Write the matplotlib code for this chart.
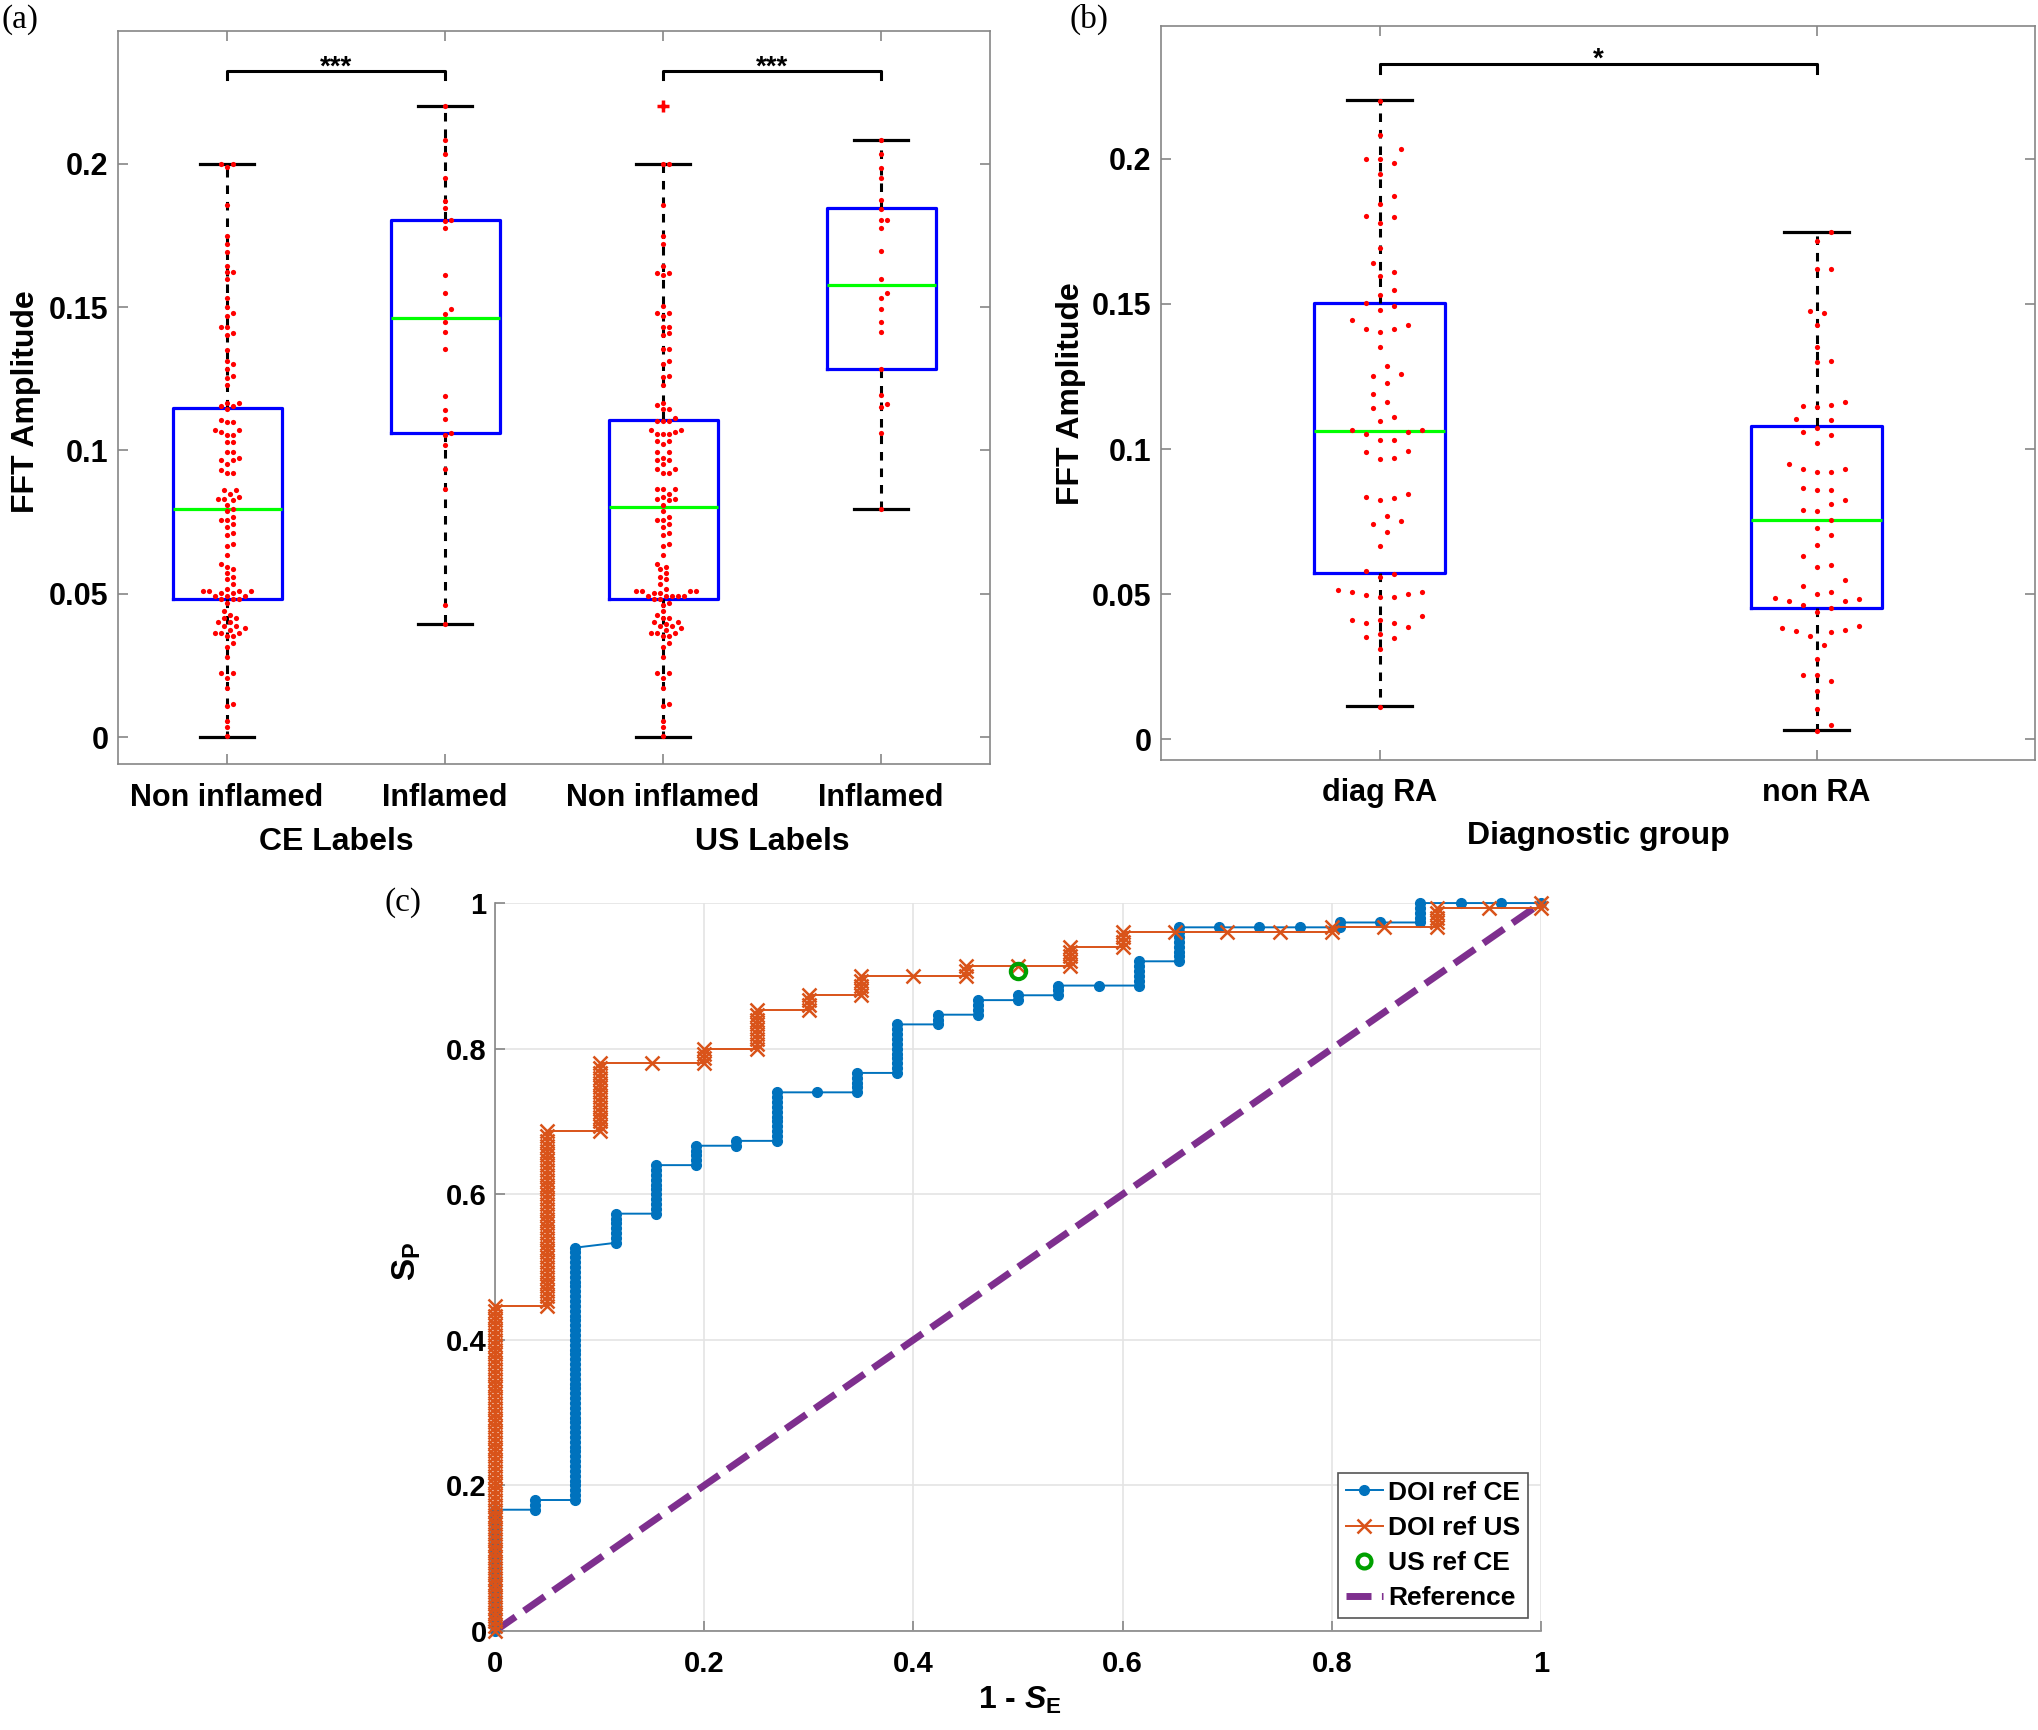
import numpy as np
import matplotlib
matplotlib.use('Agg')
import matplotlib.pyplot as plt
from matplotlib.lines import Line2D

plt.rcParams['font.family'] = 'Liberation Sans'
plt.rcParams['font.weight'] = 'bold'
plt.rcParams['mathtext.fontset'] = 'custom'
plt.rcParams['mathtext.rm'] = 'Liberation Sans:bold'
plt.rcParams['mathtext.it'] = 'Liberation Sans:bold:italic'
plt.rcParams['mathtext.bf'] = 'Liberation Sans:bold'

# ---------------- panel (a) data: FFT amplitude per label group ----------------
a_tick_labels = ['Non inflamed', 'Inflamed', 'Non inflamed', 'Inflamed']
a_group_labels = ['CE Labels', 'US Labels']

ce_non = [0.2, 0.2, 0.1987, 0.1856, 0.1749, 0.172, 0.1693, 0.1643, 0.1621, 0.1621,
          0.1597, 0.1533, 0.1501, 0.1479, 0.1467, 0.1431, 0.1431, 0.1411, 0.1404, 0.1349,
          0.131, 0.1301, 0.1284, 0.1261, 0.1254, 0.1227, 0.1165, 0.1165, 0.1156, 0.1156,
          0.1144, 0.1106, 0.11, 0.11, 0.1071, 0.1071, 0.1064, 0.1054, 0.1054, 0.103, 0.103,
          0.0993, 0.0993, 0.0973, 0.0967, 0.0967, 0.0953, 0.0932, 0.0922, 0.0922, 0.0862,
          0.0862, 0.0847, 0.0836, 0.083, 0.083, 0.0826, 0.0811, 0.0794, 0.0789, 0.0769,
          0.0757, 0.0757, 0.0743, 0.0732, 0.0711, 0.0705, 0.0675, 0.0665, 0.0636, 0.0604,
          0.0594, 0.0585, 0.0573, 0.0559, 0.0551, 0.0533, 0.0518, 0.0509, 0.0509, 0.0509,
          0.0509, 0.0501, 0.0501, 0.0492, 0.0492, 0.0492, 0.048, 0.048, 0.048, 0.0469,
          0.044, 0.0427, 0.0414, 0.0414, 0.0402, 0.0402, 0.0388, 0.0388, 0.0381, 0.0373,
          0.0364, 0.0364, 0.0364, 0.0354, 0.0354, 0.0327, 0.0315, 0.0278, 0.0223, 0.0223,
          0.0205, 0.017, 0.0116, 0.0109, 0.0057, 0.0034, 0.0005]
ce_inf = [0.2201, 0.2082, 0.2034, 0.1949, 0.1871, 0.1844, 0.1805, 0.1799, 0.1777, 0.1613,
          0.155, 0.1493, 0.1477, 0.1447, 0.1413, 0.1352, 0.119, 0.1141, 0.1111, 0.1062,
          0.1052, 0.1019, 0.0936, 0.0865, 0.0459, 0.0394]
us_non = [0.2202, 0.2, 0.2, 0.1856, 0.1749, 0.1721, 0.1643, 0.162, 0.162, 0.1612,
          0.1502, 0.1478, 0.1478, 0.1467, 0.143, 0.143, 0.1408, 0.1403, 0.1353, 0.1353,
          0.131, 0.1301, 0.126, 0.1255, 0.1228, 0.1164, 0.1157, 0.1143, 0.1143, 0.1112,
          0.1104, 0.1104, 0.1104, 0.1071, 0.1071, 0.1065, 0.1056, 0.1056, 0.1056, 0.1033,
          0.1033, 0.1021,
          0.0993, 0.0993, 0.0975, 0.0967, 0.0967, 0.0953, 0.0935, 0.0935, 0.0922, 0.0922,
          0.0864, 0.0864, 0.0864, 0.0847, 0.0836, 0.083, 0.0829, 0.0826, 0.0811, 0.0789,
          0.0769, 0.0757, 0.0757, 0.0743, 0.0732, 0.0711, 0.0705, 0.0675, 0.0665, 0.0636,
          0.0604, 0.0594, 0.0585, 0.0573, 0.0559, 0.0551, 0.0533, 0.0518, 0.0509, 0.0509,
          0.0509, 0.0509, 0.0501, 0.0501, 0.0492, 0.0492, 0.0492, 0.0492, 0.0492, 0.048,
          0.048, 0.0469, 0.0461, 0.044, 0.0427, 0.0414, 0.0414, 0.0402, 0.0402, 0.0394,
          0.0388, 0.0388, 0.0381, 0.0373, 0.0364, 0.0364, 0.0364, 0.0354, 0.0354, 0.0327,
          0.0315, 0.0278, 0.0223, 0.0223, 0.0205, 0.017, 0.0116, 0.0109, 0.0057, 0.0034,
          0.0005]
us_inf = [0.2082, 0.2033, 0.1986, 0.1949, 0.1873, 0.1843, 0.1804, 0.1804, 0.1777, 0.1695,
          0.1597, 0.155, 0.1533, 0.1493, 0.1448, 0.1413, 0.1285, 0.1192, 0.1163, 0.115,
          0.106, 0.0794]

# box statistics (q1, median, q3, whisker low, whisker high)
a_q1 = [0.0481, 0.1061, 0.0481, 0.1284]
a_med = [0.0794, 0.1463, 0.0801, 0.1578]
a_q3 = [0.1147, 0.1803, 0.1107, 0.1846]
a_wlo = [0.0, 0.0394, 0.0, 0.0794]
a_whi = [0.2, 0.2202, 0.2, 0.2084]
a_fliers = [[], [], [0.2202], []]

# ---------------- panel (b) data ----------------
b_tick_labels = ['diag RA', 'non RA']
diag_ra = [0.2198, 0.2083, 0.2032, 0.2, 0.1985, 0.2, 0.1947, 0.1843, 0.1871, 0.18,
           0.1802, 0.1777, 0.1692, 0.1639, 0.161, 0.1597, 0.1548, 0.1529, 0.1503, 0.1491,
           0.1478, 0.1446, 0.1427, 0.1412, 0.1403, 0.1412, 0.1352, 0.1285, 0.1251, 0.1259,
           0.1229, 0.1163, 0.1189, 0.114, 0.111, 0.1098, 0.1064, 0.1064, 0.1053, 0.1059,
           0.103, 0.103, 0.0992, 0.0989, 0.0964, 0.0968, 0.0836, 0.0845, 0.083, 0.0826,
           0.0771, 0.0741, 0.0752, 0.0713, 0.0665, 0.058, 0.0571, 0.0558, 0.0514, 0.0501,
           0.0491, 0.0507, 0.0507, 0.0497, 0.049, 0.0425, 0.0412, 0.0401, 0.0412, 0.0401,
           0.0386, 0.0352, 0.0363, 0.035, 0.0312, 0.0112]
non_ra = [0.1747, 0.1718, 0.162, 0.162, 0.1469, 0.1474, 0.1427, 0.1352, 0.1304, 0.1299,
          0.1144, 0.1163, 0.1153, 0.1147, 0.1102, 0.11, 0.1072, 0.1059, 0.1049, 0.1019,
          0.0949, 0.0922, 0.0922, 0.0932, 0.093, 0.086, 0.0864, 0.086, 0.0826, 0.0809,
          0.079, 0.0785, 0.0756, 0.0728, 0.0703, 0.0671, 0.0633, 0.0595, 0.0601, 0.0548,
          0.0529, 0.0507, 0.0478, 0.0463, 0.0454, 0.0439, 0.0482, 0.0486, 0.0476, 0.0501,
          0.0391, 0.0369, 0.0382, 0.0355, 0.0378, 0.0372, 0.0325, 0.0278, 0.0221, 0.0221,
          0.0202, 0.0168, 0.0104, 0.0051, 0.0028]

b_q1 = [0.0574, 0.0454]
b_med = [0.1062, 0.0755]
b_q3 = [0.1502, 0.108]
b_wlo = [0.0114, 0.0032]
b_whi = [0.2202, 0.1749]

# ---------------- panel (c) data: ROC steps ----------------
# each column k sits at x = k / n_pos ; markers from lo to hi counts (units of 1 / n_neg)
ce_n_pos, ce_n_neg = 26, 150
ce_lo = [0, 25, 27, 80, 86, 96, 100, 101, 111, 111, 115, 125, 127, 130, 131, 133, 133,
         138, 145, 145, 145, 145, 146, 146, 150, 150, 150]
ce_hi = [25, 27, 79, 86, 96, 100, 101, 111, 111, 115, 125, 127, 130, 131, 133, 133, 138,
         145, 145, 145, 145, 146, 146, 150, 150, 150, 150]
us_n_pos, us_n_neg = 20, 150
us_lo = [0, 67, 103, 117, 117, 120, 128, 131, 135, 135, 137, 137, 141, 144, 144, 144,
         144, 145, 145, 149, 149]
us_hi = [67, 103, 117, 117, 120, 128, 131, 135, 135, 137, 137, 141, 144, 144, 144, 144,
         145, 145, 149, 149, 150]
us_ref_ce = (0.5, 0.906)
c_ticks = [0, 0.2, 0.4, 0.6, 0.8, 1]
c_tick_labels = ['0', '0.2', '0.4', '0.6', '0.8', '1']
c_legend = ['DOI ref CE', 'DOI ref US', 'US ref CE', 'Reference']

BLUE = '#0072BD'
ORANGE = '#D95319'
GREEN = '#00A000'
PURPLE = '#7E2F8E'
SPINE = '#868686'


def swarm_offsets(vals, px_per_y, r):
    vals = np.asarray(vals, dtype=float)
    ys = vals * px_per_y
    offs = np.zeros(len(vals))
    done = []
    for i in np.argsort(vals, kind='stable'):
        c = 0.0
        for k in range(80):
            c = ((k + 1) // 2) * (r / 2.0) * (1 if k % 2 else -1)
            if all((c - offs[j]) ** 2 + (ys[i] - ys[j]) ** 2 >= r ** 2 for j in done):
                break
        offs[i] = c
        done.append(i)
    return offs


def box_panel(ax, groups, q1, med, q3, wlo, whi, fliers, width, px_x, px_y, r):
    pos = np.arange(1, len(groups) + 1)
    stats = [dict(q1=a, med=m, q3=b, whislo=lo, whishi=hi, fliers=f)
             for a, m, b, lo, hi, f in zip(q1, med, q3, wlo, whi, fliers)]
    ax.bxp(stats, positions=pos, widths=width, capwidths=width / 2, showfliers=True,
           boxprops=dict(color='#0000FF', lw=2.3),
           medianprops=dict(color='#00FF00', lw=2.3),
           whiskerprops=dict(color='k', lw=2.2, ls=(0, (2.8, 2.6))),
           capprops=dict(color='k', lw=2.3),
           flierprops=dict(marker='+', markeredgecolor='r', markersize=9, mew=2.5))
    for p, g in zip(pos, groups):
        off = swarm_offsets(g, px_y, r)
        ax.scatter(p + off / px_x, g, s=14, color='#FF0000', lw=0, zorder=5)
    for sp in ax.spines.values():
        sp.set_color(SPINE)
        sp.set_linewidth(1.2)
    ax.tick_params(direction='in', length=7, width=1.2, color=SPINE, top=True, right=True,
                   labelsize=22, labelcolor='k')
    ax.tick_params(axis='y', pad=7)


def sig_bar(ax, x0, x1, y, drop, text):
    ax.plot([x0, x0, x1, x1], [y - drop, y, y, y - drop], color='k', lw=2.2)
    ax.text((x0 + x1) / 2, y + drop * 0.45, text, ha='center', va='center', fontsize=20)


fig = plt.figure(figsize=(20.38, 17.30), dpi=100)
fig.patch.set_facecolor('white')

# ---------------- (a) ----------------
ax1 = fig.add_axes([0.0579, 0.5584, 0.4279, 0.4237])
box_panel(ax1, [ce_non, ce_inf, us_non, us_inf], a_q1, a_med, a_q3, a_wlo, a_whi, a_fliers,
          0.5, 218.0, 2866.0, 6.0)
ax1.set_xlim(0.5, 4.5)
ax1.set_ylim(-0.0094, 0.2463)
ax1.set_yticks([0, 0.05, 0.1, 0.15, 0.2])
ax1.set_yticklabels(['0', '0.05', '0.1', '0.15', '0.2'])
ax1.set_xticks([1, 2, 3, 4])
ax1.set_xticklabels(a_tick_labels)
ax1.tick_params(axis='x', pad=14)
ax1.text(-0.1055, 0.495, 'FFT Amplitude', transform=ax1.transAxes, rotation=90,
         ha='center', va='center', fontsize=23)
for xc, lab in zip([1.5, 3.5], a_group_labels):
    ax1.text(xc, -0.106, lab, transform=ax1.get_xaxis_transform(), ha='center',
             va='center', fontsize=23)
sig_bar(ax1, 1, 2, 0.2322, 0.0026, '***')
sig_bar(ax1, 3, 4, 0.2322, 0.0026, '***')

# ---------------- (b) ----------------
ax2 = fig.add_axes([0.5697, 0.5607, 0.4289, 0.4243])
box_panel(ax2, [diag_ra, non_ra], b_q1, b_med, b_q3, b_wlo, b_whi, [[], []],
          0.3, 437.0, 2904.0, 14.0)
ax2.set_xlim(0.5, 2.5)
ax2.set_ylim(-0.0071, 0.2457)
ax2.set_yticks([0, 0.05, 0.1, 0.15, 0.2])
ax2.set_yticklabels(['0', '0.05', '0.1', '0.15', '0.2'])
ax2.set_xticks([1, 2])
ax2.set_xticklabels(b_tick_labels)
ax2.tick_params(axis='x', pad=13)
ax2.text(-0.103, 0.4986, 'FFT Amplitude', transform=ax2.transAxes, rotation=90,
         ha='center', va='center', fontsize=23)
ax2.text(0.5, -0.103, 'Diagnostic group', transform=ax2.transAxes, ha='center',
         va='center', fontsize=23)
sig_bar(ax2, 1, 2, 0.2327, 0.0031, '*')

# ---------------- (c) ----------------
ax3 = fig.add_axes([0.2429, 0.0572, 0.5133, 0.4208])


def roc_points(lo, hi, n_pos, n_neg):
    xs, ys = [], []
    for k, (a, b) in enumerate(zip(lo, hi)):
        for c in range(a, b + 1):
            xs.append(k / n_pos)
            ys.append(c / n_neg)
    return xs, ys


ax3.plot([0, 1], [0, 1], color=PURPLE, lw=5, ls=(0, (3.6, 1.5)), zorder=2)
cx, cy = roc_points(ce_lo, ce_hi, ce_n_pos, ce_n_neg)
ax3.plot(cx, cy, color=BLUE, lw=1.4, marker='o', ms=7, mec=BLUE, mfc=BLUE, zorder=3,
         clip_on=False)
ux, uy = roc_points(us_lo, us_hi, us_n_pos, us_n_neg)
ax3.plot(ux, uy, color=ORANGE, lw=1.4, marker='x', ms=10, mew=1.8, zorder=4,
         clip_on=False)
ax3.plot([us_ref_ce[0]], [us_ref_ce[1]], ls='none', marker='o', ms=11, mfc='none',
         mec=GREEN, mew=3, zorder=5)
ax3.set_xlim(0, 1)
ax3.set_ylim(0, 1)
ax3.set_xticks(c_ticks)
ax3.set_xticklabels(c_tick_labels)
ax3.set_yticks(c_ticks)
ax3.set_yticklabels(c_tick_labels)
ax3.grid(True, color='#e4e4e4', lw=1.2)
ax3.set_axisbelow(True)
ax3.spines['top'].set_visible(False)
ax3.spines['right'].set_visible(False)
for s in ['left', 'bottom']:
    ax3.spines[s].set_color(SPINE)
    ax3.spines[s].set_linewidth(1.2)
ax3.tick_params(direction='in', length=7, width=1.2, color=SPINE, labelsize=21,
                labelcolor='k')
ax3.tick_params(axis='x', pad=14)
ax3.tick_params(axis='y', pad=6)
ax3.text(0.502, -0.095, r'1 - $S_{\mathbf{E}}$', transform=ax3.transAxes, ha='center',
         va='center', fontsize=23)
ax3.text(-0.084, 0.508, r'$\mathbf{S}_{\mathbf{P}}$', transform=ax3.transAxes, rotation=90,
         ha='center', va='center', fontsize=24)
handles = [Line2D([], [], color=BLUE, lw=1.4, marker='o', ms=7),
           Line2D([], [], color=ORANGE, lw=1.4, marker='x', ms=10, mew=1.8),
           Line2D([], [], ls='none', marker='o', ms=10, mfc='none', mec=GREEN, mew=3),
           Line2D([], [], color=PURPLE, lw=5, ls=(0, (3.6, 1.5)))]
leg = ax3.legend(handles, c_legend, loc='lower right', fontsize=19, frameon=True,
                 fancybox=False, edgecolor='#555555', framealpha=1, handlelength=1.4,
                 handletextpad=0.2, borderpad=0.3, labelspacing=0.42, borderaxespad=0.5)
leg.get_frame().set_linewidth(1.2)

# panel letters
fig.text(0.0096, 0.9887, '(a)', family='Liberation Serif', fontweight='normal',
         fontsize=24, ha='center', va='center')
fig.text(0.5344, 0.9887, '(b)', family='Liberation Serif', fontweight='normal',
         fontsize=24, ha='center', va='center')
fig.text(0.1977, 0.478, '(c)', family='Liberation Serif', fontweight='normal',
         fontsize=24, ha='center', va='center')

fig.savefig('out.png', dpi=100, facecolor='white')
